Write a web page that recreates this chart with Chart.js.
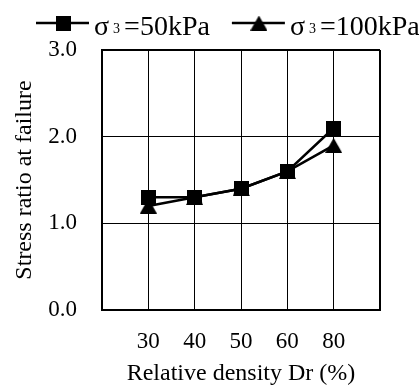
<!DOCTYPE html>
<html><head><meta charset="utf-8">
<script src="https://cdn.jsdelivr.net/npm/chart.js@4"></script>
<style>html,body{margin:0;padding:0;background:#fff}#wrap{width:419px;height:387px;position:relative}</style>
</head><body><div id="wrap"><canvas id="c" width="419" height="387"></canvas></div>
<script>
// ---- data ----
const categories = ['30', '40', '50', '60', '80'];
const sigma50 = [1.3, 1.3, 1.4, 1.6, 2.1];
const sigma100 = [1.2, 1.3, 1.4, 1.6, 1.9];
const seriesLabels = ['σ₃=50kPa', 'σ₃=100kPa'];
const yTickValues = [0, 1, 2, 3];
const xTitle = 'Relative density Dr (%)';
const yTitle = 'Stress ratio at failure';

const FONT = 'Liberation Serif, Times New Roman, serif';

function makeMarker(type) {
  const c = document.createElement('canvas');
  if (type === 'square') {
    c.width = 15; c.height = 15;
    const g = c.getContext('2d');
    g.fillStyle = '#000'; g.fillRect(0, 0, 15, 15);
  } else {
    c.width = 17; c.height = 15;
    const g = c.getContext('2d');
    g.fillStyle = '#000';
    g.beginPath(); g.moveTo(8.5, 0); g.lineTo(17, 15); g.lineTo(0, 15); g.closePath(); g.fill();
  }
  return c;
}
const squareImg = makeMarker('square');
const triImg = makeMarker('triangle');

const labels = ['', ...categories, ''];
const pad = arr => [null, ...arr, null];

const legendPlugin = {
  id: 'customLegend',
  afterDraw(chart) {
    const ctx = chart.ctx;
    let x = 36;
    const yLine = 23;
    chart.data.datasets.forEach((ds, i) => {
      ctx.save();
      ctx.strokeStyle = '#000'; ctx.lineWidth = 2.5;
      ctx.beginPath(); ctx.moveTo(x, yLine); ctx.lineTo(x + 53, yLine); ctx.stroke();
      const img = ds.pointStyle;
      ctx.drawImage(img, x + 27 - img.width / 2, yLine - img.height / 2);
      let tx = x + 58;
      const parts = ds.label.split('₃');
      ctx.fillStyle = '#000';
      ctx.textBaseline = 'alphabetic';
      ctx.font = '28px ' + FONT;
      ctx.fillText(parts[0], tx, 35);
      tx += ctx.measureText(parts[0]).width + 4;
      ctx.font = '14px ' + FONT;
      ctx.fillText('3', tx, 33);
      tx += ctx.measureText('3').width + 4;
      ctx.font = '28px ' + FONT;
      ctx.fillText(parts[1], tx, 35);
      tx += ctx.measureText(parts[1]).width;
      ctx.restore();
      x = tx + 22;
    });
  }
};

new Chart(document.getElementById('c'), {
  type: 'line',
  data: {
    labels: labels,
    datasets: [
      { label: seriesLabels[0], data: pad(sigma50), borderColor: '#000', backgroundColor: '#000',
        borderWidth: 2.5, pointStyle: squareImg, pointRadius: 8, tension: 0 },
      { label: seriesLabels[1], data: pad(sigma100), borderColor: '#000', backgroundColor: '#000',
        borderWidth: 2.5, pointStyle: triImg, pointRadius: 8, tension: 0 }
    ]
  },
  options: {
    responsive: false,
    animation: false,
    events: [],
    layout: { padding: { top: 50, right: 39, left: 0, bottom: 0 } },
    plugins: { legend: { display: false }, tooltip: { enabled: false } },
    scales: {
      x: {
        type: 'category',
        offset: false,
        grid: {
          color: '#000',
          lineWidth: c => (c.index === 0 || c.index === labels.length - 1) ? 2 : 1,
          drawTicks: false
        },
        border: { color: '#000', width: 2 },
        ticks: { color: '#000', font: { family: FONT, size: 23 }, padding: 18, maxRotation: 0, autoSkip: false },
        title: { display: true, text: xTitle, color: '#000', font: { family: FONT, size: 24, lineHeight: 1 }, padding: { top: 0, bottom: 1 } },
        afterFit: s => { s.height = 77; }
      },
      y: {
        min: 0, max: 3,
        afterBuildTicks: s => { s.ticks = yTickValues.map(v => ({ value: v })); },
        grid: {
          color: '#000',
          lineWidth: c => (c.tick && (c.tick.value === 3 || c.tick.value === 0)) ? 2 : 1,
          drawTicks: false
        },
        border: { color: '#000', width: 2 },
        ticks: { color: '#000', font: { family: FONT, size: 23 }, padding: 25, callback: v => Number(v).toFixed(1) },
        title: { display: true, text: yTitle, color: '#000', font: { family: FONT, size: 24, lineHeight: 1.2 }, padding: { top: 10, bottom: 0 } },
        afterFit: s => { s.width = 102; }
      }
    }
  },
  plugins: [legendPlugin]
});
</script>
</body></html>
